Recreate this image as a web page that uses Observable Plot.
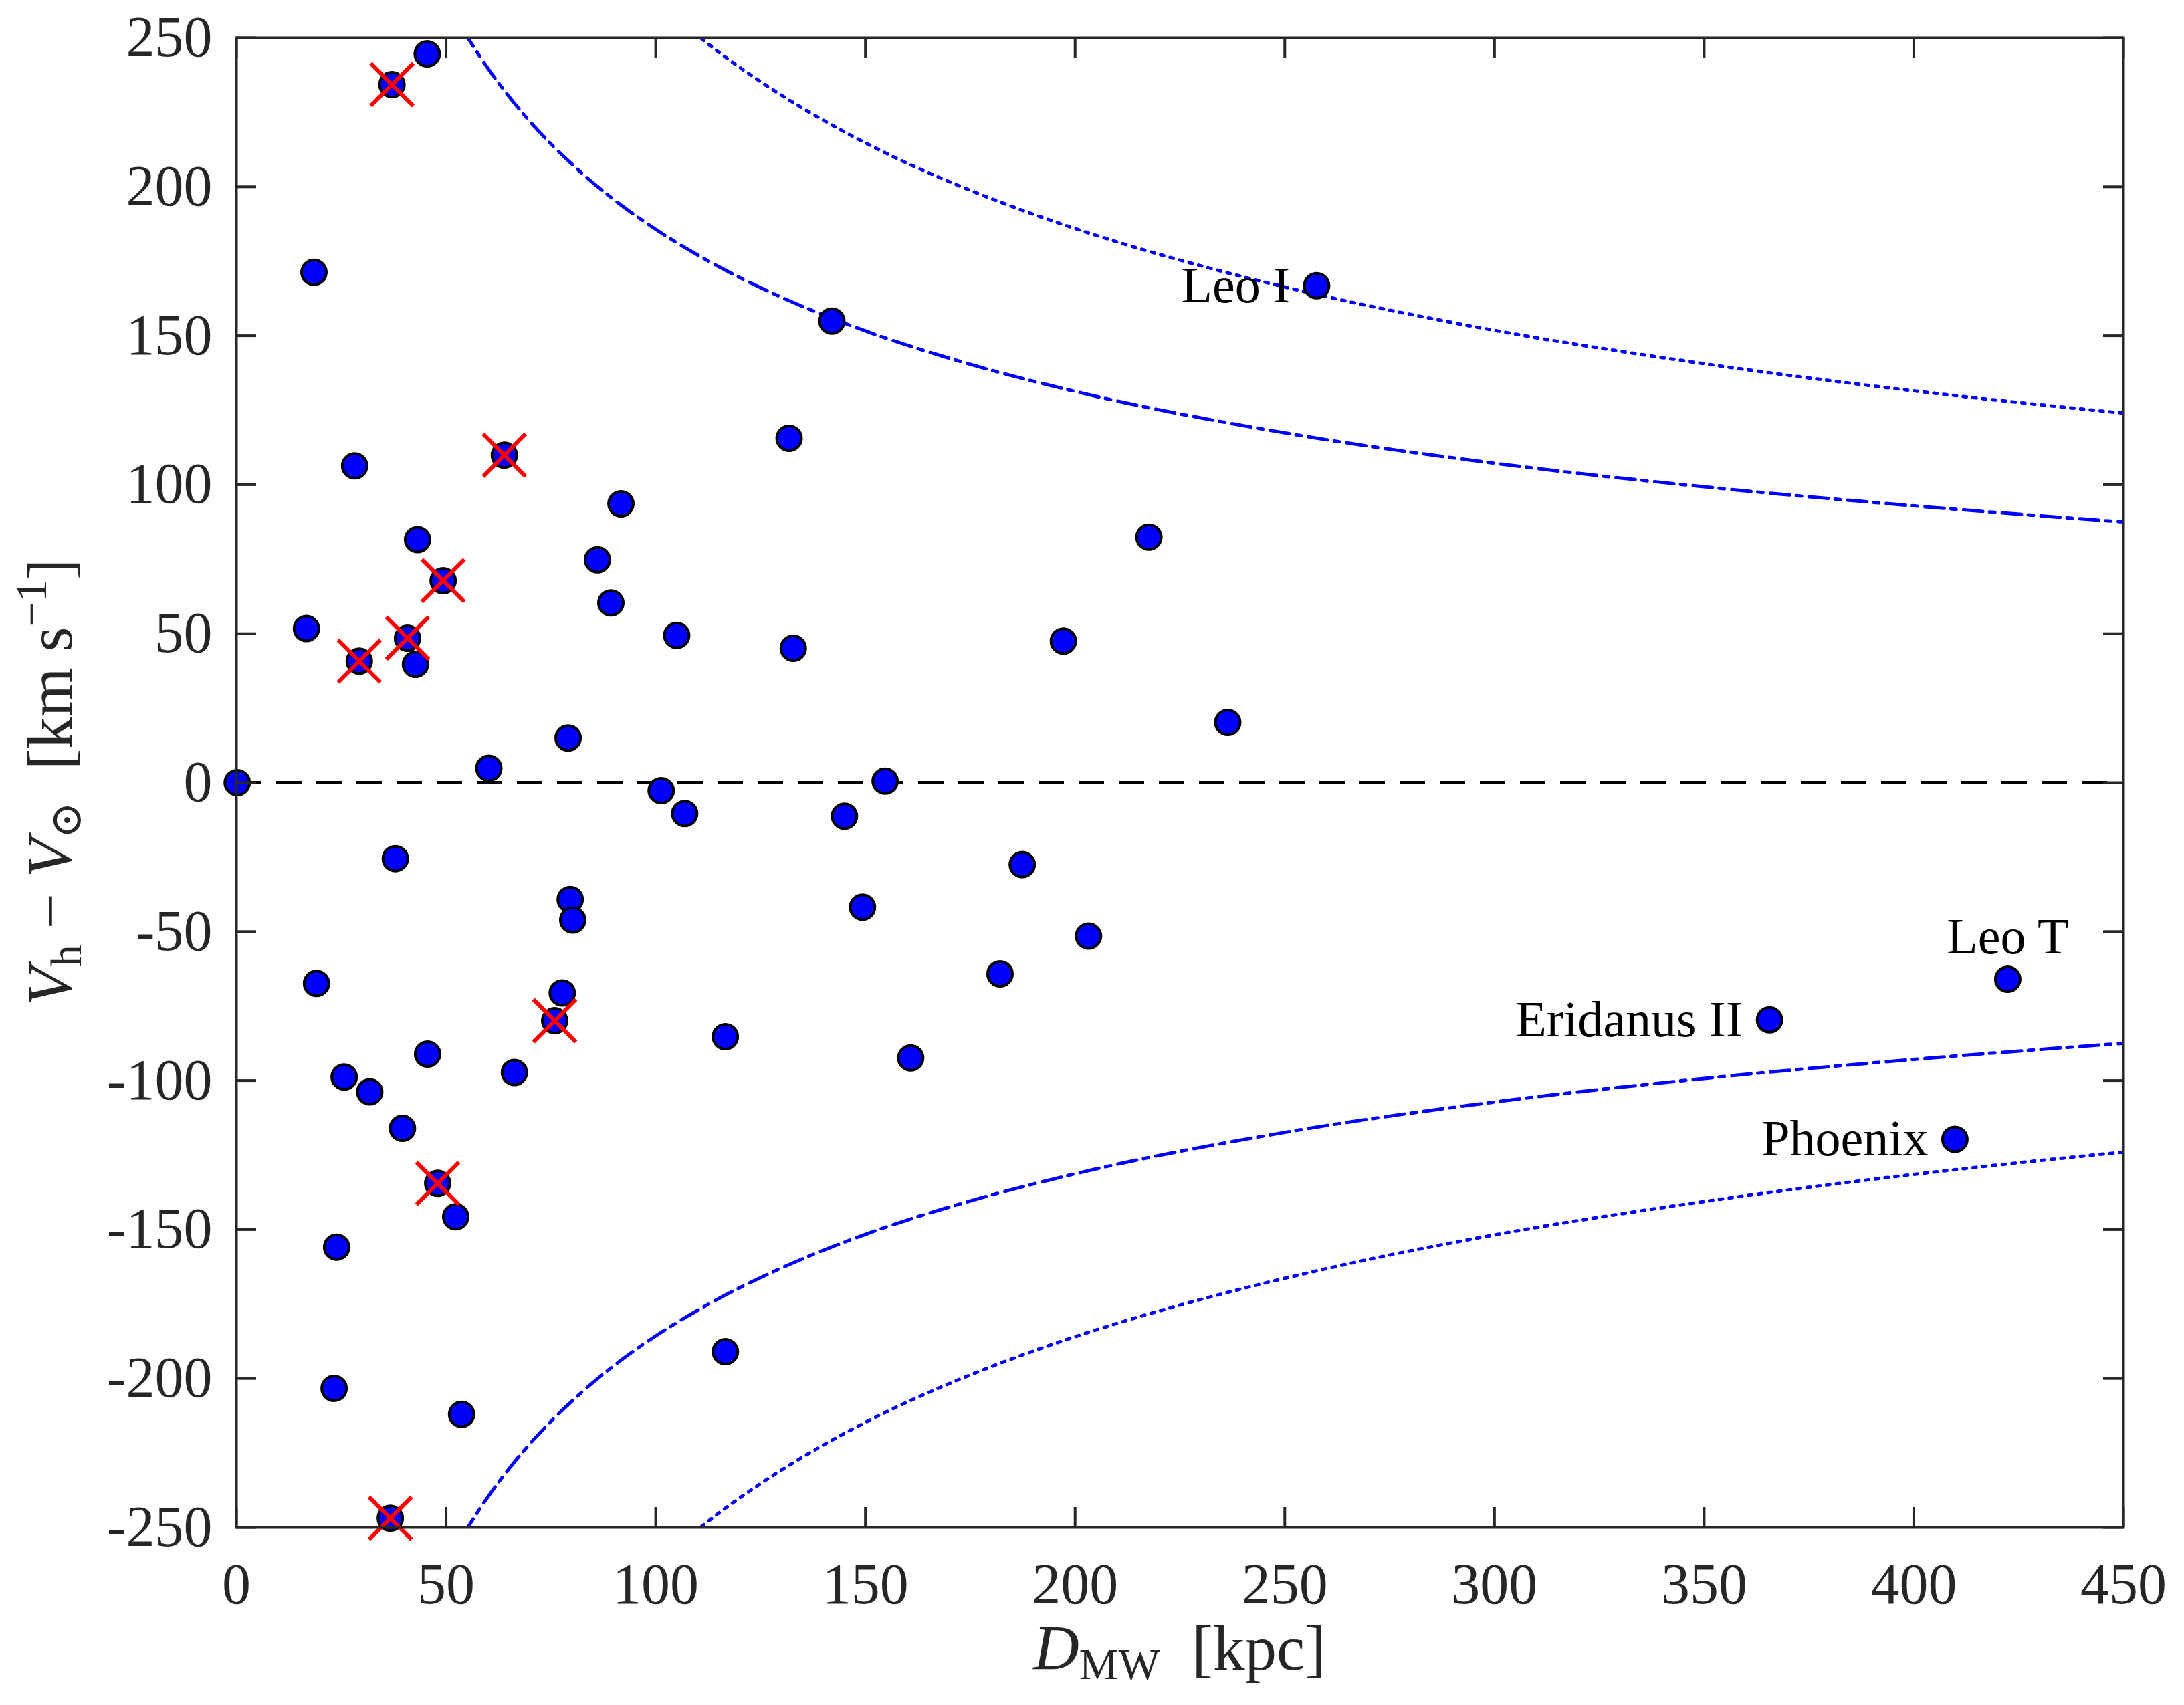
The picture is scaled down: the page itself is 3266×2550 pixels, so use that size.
<!DOCTYPE html>
<html>
<head>
<meta charset="utf-8">
<script src="https://cdn.jsdelivr.net/npm/d3@7"></script>
<script src="https://cdn.jsdelivr.net/npm/@observablehq/plot@0.6"></script>
<style>
  html, body { margin: 0; padding: 0; background: #ffffff; }
</style>
</head>
<body>
<div id="chart"></div>
<script>
// ---- data ----
const galD = [37.1, 45.5, 18.5, 28.2, 63.9, 91.7, 43.2, 86.1, 49.3, 89.3, 16.7, 105.0, 40.8, 29.3, 42.7, 79.1, 60.2, 0.2,
  142.0, 257.6, 131.8, 217.6, 132.8, 197.2, 236.4, 154.7,
  101.3, 106.9, 145.0, 37.9, 187.4, 79.6, 80.2, 149.3, 203.2, 19.1, 77.7, 182.1, 422.4, 75.9, 365.6, 116.6,
  45.6, 160.8, 66.3, 25.7, 31.8, 39.6, 409.8, 48.0, 52.3, 23.9, 116.6, 23.3, 53.7, 36.7];
const galV = [234.3, 244.6, 171.3, 106.3, 109.9, 93.6, 81.6, 74.8, 67.8, 60.3, 51.7, 49.4, 48.5, 40.8, 39.7, 15.0, 4.8, 0.0,
  154.9, 166.8, 115.6, 82.4, 45.1, 47.5, 20.2, 0.5,
  -2.7, -10.4, -11.3, -25.5, -27.5, -39.2, -46.1, -41.8, -51.5, -67.4, -70.6, -64.2, -66.0, -79.9, -79.6, -85.3,
  -91.1, -92.4, -97.3, -98.8, -103.8, -116.0, -119.7, -134.5, -145.7, -155.9, -191.0, -203.3, -212.0, -246.9];

// galaxies marked with a red cross
const crossD = [37.1, 63.9, 49.3, 40.8, 29.3, 75.9, 48.0, 36.7];
const crossV = [234.3, 109.9, 67.8, 48.5, 40.8, -79.9, -134.5, -246.9];

// named galaxies (label to the left of the point)
const labelNames = ["Leo I", "Eridanus II", "Phoenix"];
const labelD = [257.6, 365.6, 409.8];
const labelV = [166.8, -79.6, -119.7];
// label above the point
const topLabelNames = ["Leo T"];
const topLabelD = [422.4];
const topLabelV = [-66.0];

// dash-dot envelope (upper branch; lower branch is its mirror)
const envD1 = [54, 57, 60, 65, 70, 80, 90, 100, 115, 130, 150, 175, 200, 250, 300, 350, 400, 450];
const envV1 = [252.7, 246.0, 239.7, 230.3, 221.9, 207.6, 195.7, 185.7, 173.2, 162.9, 151.6, 140.4, 131.3, 117.4, 107.2, 99.3, 92.9, 87.5];
// dotted envelope
const envD2 = [109, 115, 120, 130, 140, 155, 170, 190, 210, 235, 260, 300, 350, 400, 450];
const envV2 = [251.9, 245.2, 240.1, 230.7, 222.3, 211.2, 201.7, 190.8, 181.5, 171.6, 163.1, 151.8, 140.6, 131.5, 124.0];

const xTicks = [0, 50, 100, 150, 200, 250, 300, 350, 400, 450];
const yTicks = [-250, -200, -150, -100, -50, 0, 50, 100, 150, 200, 250];

// ---- tables built from the arrays ----
const gal = galD.map((d, i) => ({d, v: galV[i]}));
const crosses = crossD.map((d, i) => ({d, v: crossV[i]}));
const labels = labelNames.map((n, i) => ({n, d: labelD[i], v: labelV[i]}));
const topLabels = topLabelNames.map((n, i) => ({n, d: topLabelD[i], v: topLabelV[i]}));
const env1 = envD1.map((d, i) => ({d, v: envV1[i]}));
const env2 = envD2.map((d, i) => ({d, v: envV2[i]}));

const W = 3266, H = 2550;
const mL = 353, mR = W - 3175, mT = 56, mB = H - 2284;
const plotW = W - mL - mR, plotH = H - mT - mB;
const tickLen = 30;
const axisColor = "#262626";
const blue = "#0000ff";
const dashDot = "29,10,8,11";
const dotted = "5,9.7";

const svg = Plot.plot({
  width: W,
  height: H,
  marginLeft: mL,
  marginRight: mR,
  marginTop: mT,
  marginBottom: mB,
  style: {fontFamily: "'Liberation Serif', 'Times New Roman', serif", background: "#ffffff", color: axisColor},
  x: {domain: [0, 450], label: null},
  y: {domain: [-250, 250], label: null},
  marks: [
    Plot.ruleY([0], {stroke: "black", strokeWidth: 5, strokeDasharray: "38,22"}),
    Plot.line(env1, {x: "d", y: "v", stroke: blue, strokeWidth: 5, strokeDasharray: dashDot, curve: "monotone-x", clip: true}),
    Plot.line(env1, {x: "d", y: d => -d.v, stroke: blue, strokeWidth: 5, strokeDasharray: dashDot, curve: "monotone-x", clip: true}),
    Plot.line(env2, {x: "d", y: "v", stroke: blue, strokeWidth: 5, strokeDasharray: dotted, curve: "monotone-x", clip: true}),
    Plot.line(env2, {x: "d", y: d => -d.v, stroke: blue, strokeWidth: 5, strokeDasharray: dotted, curve: "monotone-x", clip: true}),
    Plot.dot(gal, {x: "d", y: "v", r: 18.5, fill: blue, stroke: "black", strokeWidth: 4}),
    Plot.dot(crosses, {x: "d", y: "v", symbol: "times", r: 29, stroke: "#ff0000", strokeWidth: 6}),
    Plot.text(labels, {x: "d", y: "v", text: "n", textAnchor: "end", dx: -40, fontSize: 76, fill: "black"}),
    Plot.text(topLabels, {x: "d", y: "v", text: "n", textAnchor: "middle", dy: -63, fontSize: 76, fill: "black"}),
    Plot.frame({stroke: axisColor, strokeWidth: 4}),
    // inward ticks on all four sides
    Plot.ruleX(xTicks, {x: d => d, insetTop: plotH - tickLen, stroke: axisColor, strokeWidth: 4}),
    Plot.ruleX(xTicks, {x: d => d, insetBottom: plotH - tickLen, stroke: axisColor, strokeWidth: 4}),
    Plot.ruleY(yTicks, {y: d => d, insetRight: plotW - tickLen, stroke: axisColor, strokeWidth: 4}),
    Plot.ruleY(yTicks, {y: d => d, insetLeft: plotW - tickLen, stroke: axisColor, strokeWidth: 4}),
    Plot.axisX(xTicks, {anchor: "bottom", tickSize: 0, tickPadding: 52, fontSize: 86, tickFormat: d => String(d), label: null}),
    Plot.axisY(yTicks, {anchor: "left", tickSize: 0, tickPadding: 36, fontSize: 86, tickFormat: d => String(d), label: null})
  ]
});

// axis titles with sub/superscripts
const s = d3.select(svg);
const xl = s.append("text")
  .attr("x", (mL + W - mR) / 2).attr("y", 2497)
  .attr("text-anchor", "middle").attr("font-size", 95).attr("fill", axisColor)
  .attr("font-family", "'Liberation Serif', 'Times New Roman', serif");
xl.append("tspan").attr("font-style", "italic").text("D");
xl.append("tspan").attr("font-size", 66).attr("dy", 14).text("MW");
xl.append("tspan").attr("dy", -14).text("\u00a0\u00a0[kpc]");

const yl = s.append("text")
  .attr("transform", `translate(107,${(mT + H - mB) / 2}) rotate(-90)`)
  .attr("text-anchor", "middle").attr("font-size", 95).attr("fill", axisColor)
  .attr("font-family", "'Liberation Serif', 'Times New Roman', serif");
yl.append("tspan").attr("font-style", "italic").text("V");
yl.append("tspan").attr("font-size", 66).attr("dy", 14).text("h");
yl.append("tspan").attr("dy", -14).text("\u00a0\u2212\u00a0");
yl.append("tspan").attr("font-style", "italic").text("V");
yl.append("tspan").attr("font-size", 66).attr("dy", 14).attr("font-family", "'DejaVu Serif', 'DejaVu Sans', serif").text("\u2299");
yl.append("tspan").attr("dy", -14).text("\u00a0\u00a0[km s");
yl.append("tspan").attr("font-size", 66).attr("dy", -38).text("\u22121");
yl.append("tspan").attr("dy", 38).text("]");

document.getElementById("chart").appendChild(svg);
</script>
</body>
</html>
